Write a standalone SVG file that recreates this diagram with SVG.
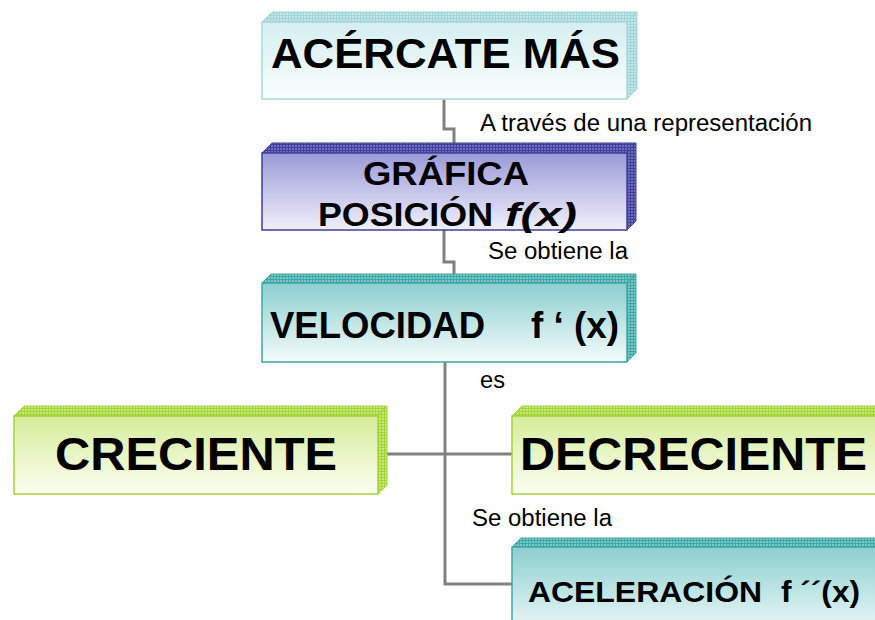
<svg xmlns="http://www.w3.org/2000/svg" width="875" height="620" viewBox="0 0 875 620">
<style>
.lbl{font-family:"Liberation Sans",Arial,sans-serif;font-size:23px;fill:#000}
.big{font-family:"Liberation Sans",Arial,sans-serif;font-weight:bold;fill:#000}
.conn{fill:none;stroke:#808080;stroke-width:3}
</style>
<defs>
<pattern id="gC" width="3" height="3" patternUnits="userSpaceOnUse"><rect width="3" height="3" fill="#c4e6e8"/><path d="M0 0.5H3M0.5 0V3" stroke="#9fd3d7" stroke-width="1"/></pattern>
<pattern id="gB" width="3" height="3" patternUnits="userSpaceOnUse"><rect width="3" height="3" fill="#6e6ebe"/><path d="M0 0.5H3M0.5 0V3" stroke="#40409a" stroke-width="1"/></pattern>
<pattern id="gT" width="3" height="3" patternUnits="userSpaceOnUse"><rect width="3" height="3" fill="#7cc8c8"/><path d="M0 0.5H3M0.5 0V3" stroke="#3fa6a6" stroke-width="1"/></pattern>
<pattern id="gG" width="3" height="3" patternUnits="userSpaceOnUse"><rect width="3" height="3" fill="#c8e878"/><path d="M0 0.5H3M0.5 0V3" stroke="#a2d43a" stroke-width="1"/></pattern>
<linearGradient id="fC" x1="0" y1="0" x2="0" y2="1"><stop offset="0" stop-color="#d4eef0"/><stop offset="1" stop-color="#fbfefe"/></linearGradient>
<linearGradient id="fB" x1="0" y1="0" x2="0" y2="1"><stop offset="0" stop-color="#9a9ad8"/><stop offset="1" stop-color="#f0f0fb"/></linearGradient>
<linearGradient id="fT" x1="0" y1="0" x2="0" y2="1"><stop offset="0" stop-color="#8ccfcf"/><stop offset="1" stop-color="#f4fbfb"/></linearGradient>
<linearGradient id="fG" x1="0" y1="0" x2="0" y2="1"><stop offset="0" stop-color="#d6ec9a"/><stop offset="1" stop-color="#fbfff2"/></linearGradient>
</defs>
<g id="connectors">
<path class="conn" d="M444 99V129H454V143"/>
<path class="conn" d="M444 230V262H454V274"/>
<path class="conn" d="M445 362V584H512"/>
<path class="conn" d="M387 454H512"/>
</g>
<g id="n1">
<polygon points="262,22 272,12 637,12 627,22" fill="url(#gC)" stroke="#a8d8dc" stroke-width="1"/>
<polygon points="627,22 637,12 637,89 627,99" fill="url(#gC)" stroke="#a8d8dc" stroke-width="1"/>
<rect x="262" y="22" width="365" height="77" fill="url(#fC)" stroke="#a8d8dc" stroke-width="1.5"/>
<text class="big" x="271" y="68" font-size="42" textLength="349" lengthAdjust="spacingAndGlyphs">ACÉRCATE MÁS</text>
</g>
<g id="n2">
<polygon points="262,153 272,143 636,143 627,153" fill="url(#gB)" stroke="#40409a" stroke-width="1"/>
<polygon points="627,153 636,143 636,221 627,230" fill="url(#gB)" stroke="#40409a" stroke-width="1"/>
<rect x="262" y="153" width="365" height="77" fill="url(#fB)" stroke="#40409a" stroke-width="1.5"/>
<text class="big" x="363" y="185" font-size="34" textLength="166" lengthAdjust="spacingAndGlyphs">GRÁFICA</text>
<text class="big" x="318" y="226" font-size="34" textLength="175" lengthAdjust="spacingAndGlyphs">POSICIÓN</text>
<text class="big" x="505" y="226" font-size="34" font-style="italic" textLength="72" lengthAdjust="spacingAndGlyphs">f(x)</text>
</g>
<g id="n3">
<polygon points="262,283 271,274 636,274 627,283" fill="url(#gT)" stroke="#3fa6a6" stroke-width="1"/>
<polygon points="627,283 636,274 636,353 627,362" fill="url(#gT)" stroke="#3fa6a6" stroke-width="1"/>
<rect x="262" y="283" width="365" height="79" fill="url(#fT)" stroke="#3fa6a6" stroke-width="1.5"/>
<text class="big" x="270" y="338" font-size="36" textLength="215" lengthAdjust="spacingAndGlyphs">VELOCIDAD</text>
<text class="big" x="531" y="338" font-size="36" textLength="88" lengthAdjust="spacingAndGlyphs">f ‘ (x)</text>
</g>
<g id="n4">
<polygon points="14,416 24,406 387,406 378,416" fill="url(#gG)" stroke="#a2d43a" stroke-width="1"/>
<polygon points="378,416 387,406 387,485 378,494" fill="url(#gG)" stroke="#a2d43a" stroke-width="1"/>
<rect x="14" y="416" width="364" height="78" fill="url(#fG)" stroke="#a2d43a" stroke-width="1.5"/>
<text class="big" x="55" y="470" font-size="47" textLength="282" lengthAdjust="spacingAndGlyphs">CRECIENTE</text>
</g>
<g id="n5">
<polygon points="512,416 522,406 900,406 890,416" fill="url(#gG)" stroke="#a2d43a" stroke-width="1"/>
<rect x="512" y="416" width="378" height="78" fill="url(#fG)" stroke="#a2d43a" stroke-width="1.5"/>
<text class="big" x="520" y="470" font-size="47" textLength="347" lengthAdjust="spacingAndGlyphs">DECRECIENTE</text>
</g>
<g id="n6">
<polygon points="512,547 521,538 900,538 890,547" fill="url(#gT)" stroke="#3fa6a6" stroke-width="1"/>
<rect x="512" y="547" width="378" height="90" fill="url(#fT)" stroke="#3fa6a6" stroke-width="1.5"/>
<text class="big" x="528" y="602" font-size="30" textLength="234" lengthAdjust="spacingAndGlyphs">ACELERACIÓN</text>
<text class="big" x="781" y="602" font-size="30" textLength="79" lengthAdjust="spacingAndGlyphs">f ´´(x)</text>
</g>
<g id="labels">
<text class="lbl" x="480" y="131" textLength="332" lengthAdjust="spacingAndGlyphs">A través de una representación</text>
<text class="lbl" x="488" y="259" textLength="140" lengthAdjust="spacingAndGlyphs">Se obtiene la</text>
<text class="lbl" x="480" y="388" textLength="25" lengthAdjust="spacingAndGlyphs">es</text>
<text class="lbl" x="472" y="526" textLength="140" lengthAdjust="spacingAndGlyphs">Se obtiene la</text>
</g>
</svg>
